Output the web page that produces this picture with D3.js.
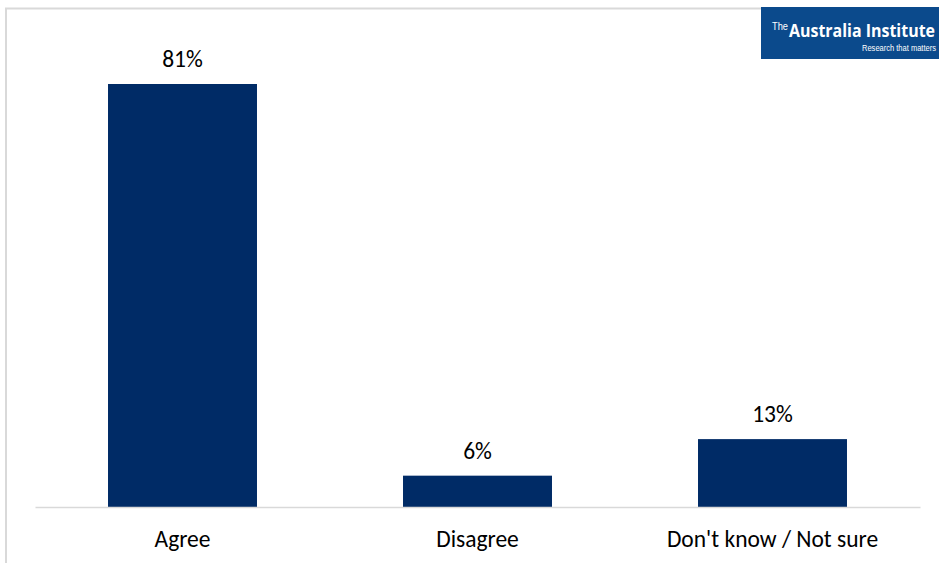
<!DOCTYPE html>
<html><head><meta charset="utf-8">
<script src="https://cdn.jsdelivr.net/npm/d3@7"></script>
<style>body{margin:0;background:#fff;} svg{display:block;}</style>
</head><body>
<script>
const categories = ["Agree", "Disagree", "Don't know / Not sure"];
const values = [81, 6, 13];
const valueLabels = ["81%", "6%", "13%"];

const W = 939, H = 563;
const svg = d3.select("body").append("svg").attr("width", W).attr("height", H);
const font = "Carlito, Calibri, Lato, 'Open Sans', sans-serif";
const fs = 23.5;

// chart frame
svg.append("path").attr("d", "M6,563 V8.5 H939").attr("fill", "none")
  .attr("stroke", "#d9d9d9").attr("stroke-width", 2);

const x = d3.scaleBand().domain(categories).range([35, 920]).paddingInner(0.495).paddingOuter(0.2475);
const y = d3.scaleLinear().domain([0, 81]).range([507, 84]);

svg.selectAll("rect.bar").data(values).join("rect").attr("class", "bar")
  .attr("x", (d, i) => x(categories[i])).attr("width", x.bandwidth())
  .attr("y", d => y(d)).attr("height", d => y(0) - y(d)).attr("fill", "#002b66");

// axis baseline
const xAxis = d3.axisBottom(x).tickSize(0).tickPadding(0);
const g = svg.append("g").attr("transform", `translate(0,${y(0)})`).call(xAxis);
g.select(".domain").attr("stroke", "#d9d9d9").attr("stroke-width", 1.5);
g.selectAll("text").attr("font-family", font).attr("font-size", fs).attr("fill", "#000")
  .attr("dy", null).attr("y", 40);

svg.selectAll("text.val").data(values).join("text").attr("class", "val")
  .attr("x", (d, i) => x(categories[i]) + x.bandwidth() / 2)
  .attr("y", d => y(d) - 17).attr("text-anchor", "middle")
  .attr("font-family", font).attr("font-size", fs).attr("fill", "#000")
  .text((d, i) => valueLabels[i]);

// logo
const logo = svg.append("g");
logo.append("rect").attr("x", 761).attr("y", 7).attr("width", 178).attr("height", 52).attr("fill", "#0b4a8c");
logo.append("text").attr("x", 772).attr("y", 30).attr("fill", "#fff")
  .attr("font-family", "'Liberation Sans Narrow', sans-serif").attr("font-size", 10)
  .attr("textLength", 16).attr("lengthAdjust", "spacingAndGlyphs").text("The");
logo.append("text").attr("x", 789).attr("y", 37).attr("fill", "#fff").attr("font-weight", "bold")
  .attr("font-family", "'Liberation Sans Narrow', 'Open Sans', sans-serif").attr("font-size", 18)
  .attr("textLength", 146).attr("lengthAdjust", "spacingAndGlyphs").text("Australia Institute");
logo.append("text").attr("x", 862).attr("y", 51).attr("fill", "#fff")
  .attr("font-family", "'Liberation Sans Narrow', sans-serif").attr("font-size", 8.8)
  .attr("textLength", 74).attr("lengthAdjust", "spacingAndGlyphs").text("Research that matters");
</script>
</body></html>
